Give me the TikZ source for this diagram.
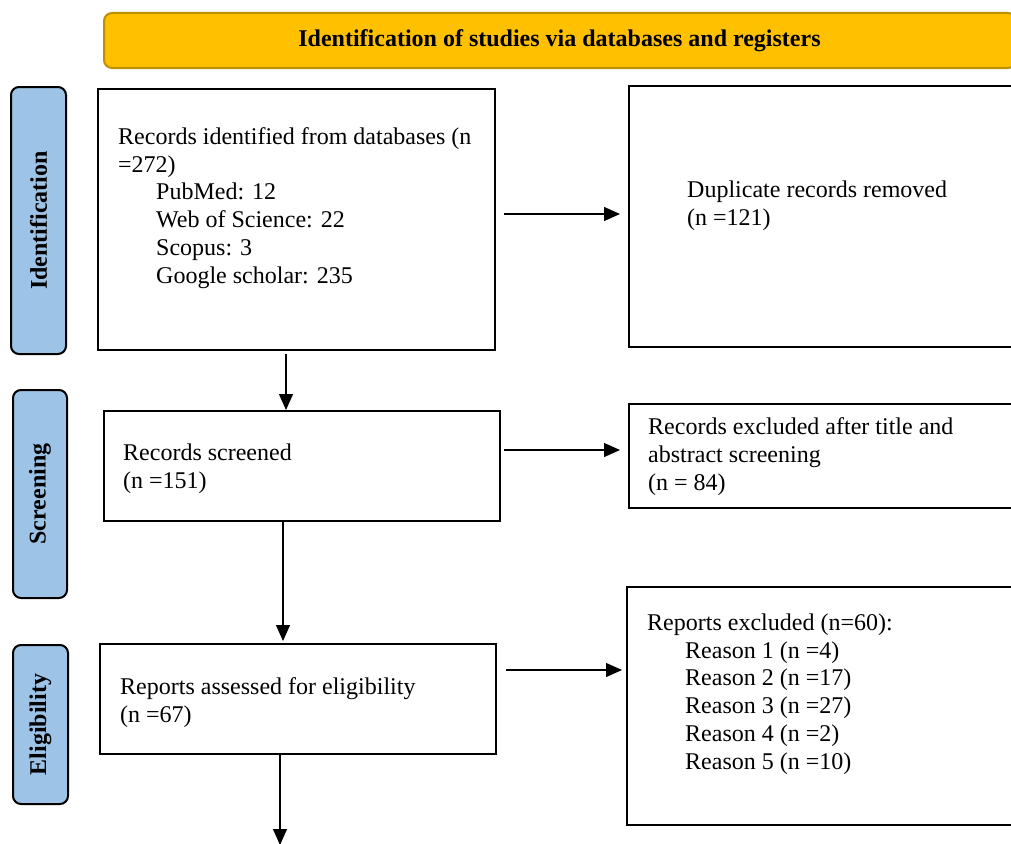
\documentclass[tikz,border=0pt]{standalone}
\usepackage{fontspec}
\setmainfont{Liberation Serif}
\usetikzlibrary{arrows.meta}
\definecolor{bannerfill}{HTML}{FFC000}
\definecolor{bannerdraw}{HTML}{BF9000}
\definecolor{sidefill}{HTML}{9DC3E6}
\tikzset{
  box/.style={draw=black, line width=2pt, fill=white},
  side/.style={draw=black, line width=2pt, fill=sidefill, rounded corners=8pt},
  sidetext/.style={rotate=90, font=\fontsize{24}{28}\selectfont\bfseries},
  txt/.style={anchor=base west, inner sep=0pt, align=left, font=\fontsize{24}{27.7}\selectfont},
  arr/.style={line width=1.3pt, -{Triangle[length=16pt,width=14pt]}}
}
\begin{document}
\begin{tikzpicture}[x=1pt,y=-1pt]
\clip (0,0) rectangle (1011,843);
\fill[white] (0,0) rectangle (1011,843);
% banner
\node[draw=bannerdraw, fill=bannerfill, line width=2pt, rounded corners=8pt, minimum width=912pt, minimum height=55pt, inner sep=0pt, anchor=north west] (banner) at (103,12) {};
\node[font=\fontsize{24}{28}\selectfont\bfseries, inner sep=0pt] (bannert) at (559.5,41) {Identification of studies via databases and registers};
% side labels
\node[side, minimum width=55pt, minimum height=267pt, anchor=north west] (sid) at (10,86) {};
\node[sidetext] (sidt) at (sid.center) {Identification};
\node[side, minimum width=54pt, minimum height=208pt, anchor=north west] (sscr) at (12,389) {};
\node[sidetext] (sscrt) at (sscr.center) {Screening};
\node[side, minimum width=55pt, minimum height=159pt, anchor=north west] (selg) at (12,644) {};
\node[sidetext] (selgt) at (selg.center) {Eligibility};
% boxes
\node[box, minimum width=397pt, minimum height=261pt, anchor=north west] (b1) at (97,88) {};
\node[box, minimum width=420pt, minimum height=261pt, anchor=north west] (dup) at (628,85) {};
\node[box, minimum width=396pt, minimum height=110pt, anchor=north west] (scr) at (103,410) {};
\node[box, minimum width=420pt, minimum height=104pt, anchor=north west] (exc) at (628,403) {};
\node[box, minimum width=396pt, minimum height=110pt, anchor=north west] (elg) at (99,643) {};
\node[box, minimum width=420pt, minimum height=238pt, anchor=north west] (rep) at (626,586) {};
% texts (base anchor = baseline of last line)
\node[txt] (t1) at (118,283) {Records identified from databases (n\\=272)\\\hspace*{38pt}PubMed: 12\\\hspace*{38pt}Web of Science: 22\\\hspace*{38pt}Scopus: 3\\\hspace*{38pt}Google scholar: 235};
\node[txt] (tdup) at (687,225) {Duplicate records removed\\(n =121)};
\node[txt] (tscr) at (123,488) {Records screened\\(n =151)};
\node[txt] (texc) at (648,490) {Records excluded after title and\\abstract screening\\(n = 84)};
\node[txt] (telg) at (120,722) {Reports assessed for eligibility\\(n =67)};
\node[txt] (trep) at (647,769) {Reports excluded (n=60):\\\hspace*{38pt}Reason 1 (n =4)\\\hspace*{38pt}Reason 2 (n =17)\\\hspace*{38pt}Reason 3 (n =27)\\\hspace*{38pt}Reason 4 (n =2)\\\hspace*{38pt}Reason 5 (n =10)};
% arrows
\coordinate (a1s) at (504,214);
\coordinate (a2s) at (504,450);
\coordinate (a3s) at (506,670);
\coordinate (endbot) at (280,843);
\draw[arr, shorten >=8pt] (a1s) -- (a1s -| dup.west);
\draw[arr, shorten >=8pt] (a2s) -- (a2s -| exc.west);
\draw[arr, shorten >=4pt] (a3s) -- (a3s -| rep.west);
\draw[arr, shorten <=3pt] (b1.south -| 286,0) -- (scr.north -| 286,0);
\draw[arr, shorten <=-2pt, shorten >=2pt] (scr.south -| 283,0) -- (elg.north -| 283,0);
\draw[arr, shorten >=-2pt] (elg.south -| 280,0) -- (endbot);
\end{tikzpicture}
\end{document}
